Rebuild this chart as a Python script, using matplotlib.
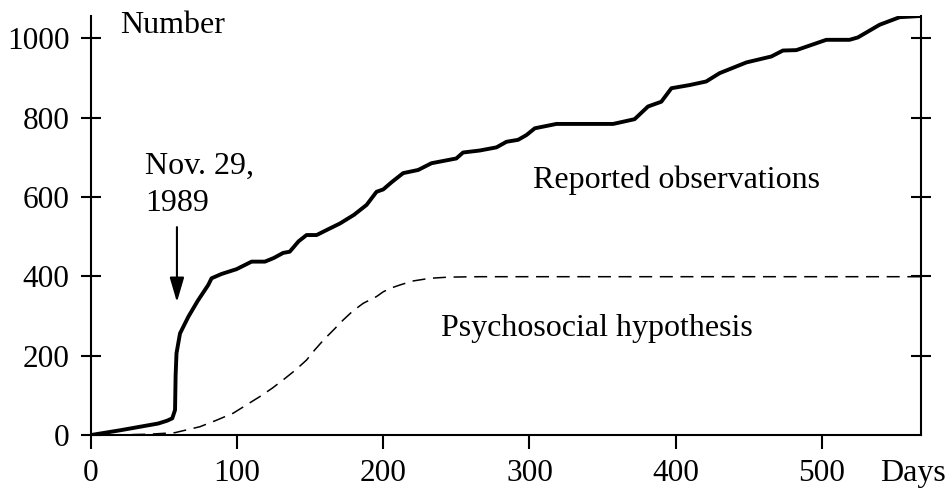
import matplotlib.pyplot as plt

plt.rcParams['font.family'] = ['Liberation Serif', 'DejaVu Serif']

# Reported observations (cumulative number vs days)
obs_days = [0, 20, 46, 52, 55.6, 57.5, 57.9, 58.5, 60.9, 66.6, 73, 80.2, 82.5,
            89.4, 99.6, 109.9, 119, 125, 131.5, 136, 142, 147.5, 154.4, 162,
            170.3, 180, 188.6, 195.4, 200, 206, 213.6, 223.9, 233, 250, 254.6,
            266, 277.5, 284.3, 292.3, 298, 303.7, 318.5, 340, 357.3, 372,
            381.2, 390.3, 397.2, 409.7, 421, 430.2, 448.5, 465.6, 473.5, 482.7,
            503.2, 519.1, 524.8, 539.7, 553.4, 567.5]
obs_count = [0, 12, 29, 36, 42, 63, 150, 206, 256, 298, 338, 378, 395,
             406, 418, 437, 437, 446, 459, 462, 488, 504, 504, 518,
             533, 555, 580, 613, 619, 638, 660, 668, 685, 697, 712,
             717, 725, 739, 744, 756, 773, 784, 784, 784, 796,
             828, 840, 874, 882, 891, 912, 939, 954, 969, 970,
             996, 996, 1002, 1034, 1053, 1056]

# Psychosocial hypothesis curve
hyp_days = [0, 20, 40, 57.5, 74.6, 85, 97.3, 106, 115.6, 124, 131.5, 140,
            147.5, 153, 159, 166, 172.6, 179, 186.3, 195.4, 200, 205, 211.3,
            220, 231.9, 245, 266, 300, 400, 500, 568]
hyp_count = [0, 0.5, 2, 6, 21, 36, 55, 75, 97, 118, 139, 164,
             189, 214, 239, 265, 290, 312, 332, 349, 361, 370, 378,
             388, 395, 398, 399, 399, 399, 399, 399]

fig = plt.figure(figsize=(9.49, 4.91), dpi=100)
ax = fig.add_axes([0.0959, 0.114, 0.9705 - 0.0959, 0.9674 - 0.114])

ax.plot(obs_days, obs_count, color='black', lw=2.8, solid_capstyle='round',
        solid_joinstyle='round')
ax.plot(hyp_days, hyp_count, color='black', lw=1.1, dashes=(8.5, 5))

ax.set_xlim(0, 568)
ax.set_ylim(0, 1056)

ax.spines['top'].set_visible(False)
for s in ['left', 'right', 'bottom']:
    ax.spines[s].set_linewidth(1.5)

ax.set_xticks([0, 100, 200, 300, 400, 500])
ax.set_yticks([0, 200, 400, 600, 800, 1000])
ax.tick_params(axis='x', direction='out', length=10, width=1.5,
               labelsize=22.5, pad=7)
ax.tick_params(axis='y', direction='inout', length=15, width=1.5,
               labelsize=22.5, pad=8)

# right-side ticks without labels (no tick at 0)
ax2 = ax.twinx()
ax2.set_ylim(0, 1056)
ax2.set_yticks([200, 400, 600, 800, 1000])
ax2.set_yticklabels([])
ax2.tick_params(axis='y', direction='inout', length=15, width=1.5)
for s in ['top', 'left', 'bottom', 'right']:
    ax2.spines[s].set_visible(False)

ax.text(19.8, 1031, "Number", fontsize=23, ha='left', va='center')
fig.text(880 / 949, 1 - 474 / 491, "Days", fontsize=23, ha='left', va='center')

ax.text(37, 630, "Nov. 29,\n1989", fontsize=23, ha='left', va='center',
        linespacing=1.4)
ax.annotate("", xy=(58.8, 335), xytext=(58.8, 524),
            arrowprops=dict(arrowstyle='-|>,head_length=0.75,head_width=0.22',
                            mutation_scale=20, color='black', lw=1.5,
                            shrinkA=0, shrinkB=0))

ax.text(400.8, 643, "Reported observations", fontsize=23, ha='center',
        va='center')
ax.text(346.5, 268, "Psychosocial hypothesis", fontsize=23, ha='center',
        va='center')

fig.savefig("out.png", dpi=100)
